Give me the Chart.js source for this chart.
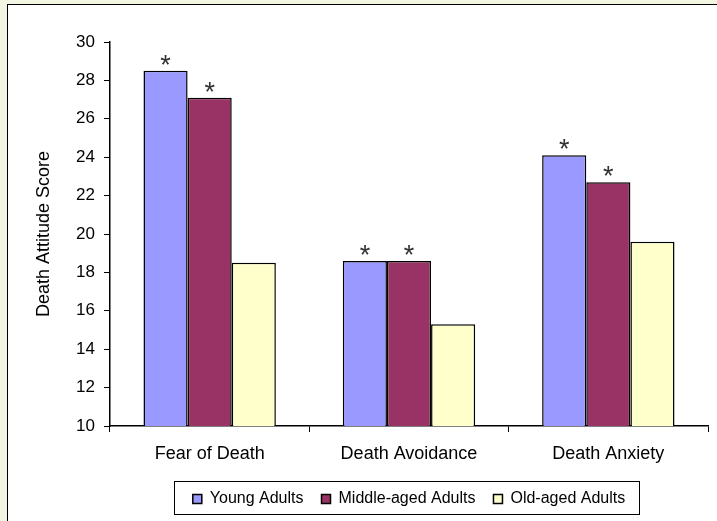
<!DOCTYPE html>
<html lang="en">
<head>
<meta charset="UTF-8">
<title>Death Attitude Score by Age Group</title>
<script src="https://cdn.jsdelivr.net/npm/chart.js"></script>
<style>
    html, body { margin: 0; padding: 0; }
    body { width: 717px; height: 521px; overflow: hidden; background: #f2f5e2; position: relative; font-family: Arial, "Liberation Sans", sans-serif; }
    .frame { position: absolute; left: 7px; top: 4px; width: 740px; height: 560px; border: 1.5px solid #000; background: #fff; box-sizing: border-box; }
    .wrap { position: absolute; left: 0; top: 0; width: 717px; height: 521px; }
</style>
</head>
<body>
<div class="frame"></div>
<div class="wrap"><canvas id="chart"></canvas></div>

<script>
    // data
    const categories = ['Fear of Death', 'Death Avoidance', 'Death Anxiety'];
    const youngAdults = [28.5, 18.6, 24.1];
    const middleAged = [27.1, 18.6, 22.7];
    const oldAged = [18.5, 15.3, 19.6];
    const seriesNames = ['Young Adults', 'Middle-aged Adults', 'Old-aged Adults'];
    const yTicks = [10, 12, 14, 16, 18, 20, 22, 24, 26, 28, 30];
    // which bars carry a significance star
    const starsYoung = [true, true, true];
    const starsMiddle = [true, true, true];

    const font = 'Arial, "Liberation Sans", sans-serif';

    // draws the "*" marks above bars
    const starPlugin = {
        id: 'stars',
        afterDatasetsDraw(chart) {
            const ctx = chart.ctx;
            const flags = [starsYoung, starsMiddle];
            ctx.save();
            ctx.fillStyle = '#333';
            ctx.font = '27px ' + font;
            ctx.textAlign = 'center';
            ctx.textBaseline = 'alphabetic';
            flags.forEach((list, d) => {
                chart.getDatasetMeta(d).data.forEach((bar, i) => {
                    if (list[i]) ctx.fillText('*', bar.x, bar.y + 3);
                });
            });
            ctx.restore();
        }
    };

    // centre the legend under the plot area and box it
    let legendRect = null;
    const legendBox = {
        id: 'legendBox',
        afterLayout(chart) {
            const lg = chart.legend;
            if (!lg) return;
            lg.left = chart.chartArea.left;
            lg.right = chart.chartArea.right;
            lg.width = lg.right - lg.left;
            if (lg.adjustHitBoxes) lg.adjustHitBoxes();
            const boxes = lg.legendHitBoxes || [];
            if (!boxes.length) return;
            legendRect = {
                x1: Math.min(...boxes.map(b => b.left)) - 19,
                x2: Math.max(...boxes.map(b => b.left + b.width)) + 14,
                y1: Math.min(...boxes.map(b => b.top)) - 10,
                y2: Math.max(...boxes.map(b => b.top + b.height)) + 7
            };
        },
        afterDraw(chart) {
            if (!legendRect) return;
            const r = legendRect;
            const ctx = chart.ctx;
            ctx.save();
            ctx.strokeStyle = '#000';
            ctx.lineWidth = 1;
            ctx.strokeRect(Math.round(r.x1) + 0.5, Math.round(r.y1) + 0.5, Math.round(r.x2 - r.x1), Math.round(r.y2 - r.y1));
            ctx.restore();
        }
    };

    const ctx = document.getElementById('chart').getContext('2d');
    new Chart(ctx, {
        type: 'bar',
        data: {
            labels: categories,
            datasets: [
                { label: seriesNames[0], data: youngAdults, backgroundColor: '#9999ff', borderColor: '#000', borderWidth: 1.5 },
                { label: seriesNames[1], data: middleAged, backgroundColor: '#993366', borderColor: '#000', borderWidth: 1.5 },
                { label: seriesNames[2], data: oldAged, backgroundColor: '#ffffcc', borderColor: '#000', borderWidth: 1.5 }
            ]
        },
        options: {
            responsive: true,
            maintainAspectRatio: false,
            animation: false,
            datasets: { bar: { categoryPercentage: 0.664, barPercentage: 1 } },
            layout: { padding: { left: 0, right: 9, top: 42, bottom: 4 } },
            plugins: {
                tooltip: { enabled: false },
                legend: {
                    position: 'bottom',
                    labels: {
                        boxWidth: 9, boxHeight: 9, padding: 18,
                        color: '#000',
                        font: { family: font, size: 16 },
                        generateLabels(chart) {
                            return chart.data.datasets.map((ds, i) => ({
                                text: ds.label, fillStyle: ds.backgroundColor,
                                strokeStyle: '#000', lineWidth: 1.5, datasetIndex: i
                            }));
                        }
                    }
                }
            },
            scales: {
                x: {
                    grid: { display: true, drawOnChartArea: false, offset: true, color: '#000', tickLength: 6, tickWidth: 1 },
                    border: { color: '#000', width: 1.5 },
                    ticks: { color: '#000', padding: 11, font: { family: font, size: 18 } },
                    afterFit(scale) { scale.height = 47; }
                },
                y: {
                    min: 10, max: 30,
                    afterBuildTicks(scale) { scale.ticks = yTicks.map(v => ({ value: v })); },
                    grid: { display: true, drawOnChartArea: false, color: '#000', tickLength: 6 },
                    border: { color: '#000', width: 1.5 },
                    ticks: { color: '#000', padding: 9, font: { family: font, size: 17 } },
                    title: { display: true, text: 'Death Attitude Score', color: '#000', font: { family: font, size: 18 }, padding: { top: 33 } },
                    afterFit(scale) { scale.width = 110; }
                }
            }
        },
        plugins: [starPlugin, legendBox]
    });
</script>
</body>
</html>
